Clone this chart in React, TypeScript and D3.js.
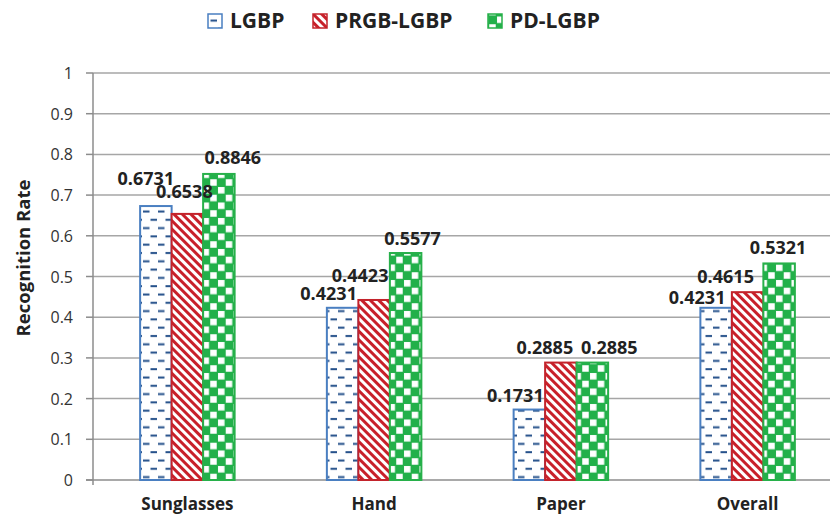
import React from "react";
import * as d3 from "d3";

const categories = ["Sunglasses", "Hand", "Paper", "Overall"];
const seriesNames = ["LGBP", "PRGB-LGBP", "PD-LGBP"];
const lgbpValues = [0.6731, 0.4231, 0.1731, 0.4231];
const prgbValues = [0.6538, 0.4423, 0.2885, 0.4615];
const pdBarValues = [0.752, 0.5577, 0.2885, 0.5321];
const lgbpLabels = ["0.6731", "0.4231", "0.1731", "0.4231"];
const prgbLabels = ["0.6538", "0.4423", "0.2885", "0.4615"];
const pdLabels = ["0.8846", "0.5577", "0.2885", "0.5321"];
const yTicks = [0, 0.1, 0.2, 0.3, 0.4, 0.5, 0.6, 0.7, 0.8, 0.9, 1];
const yTickLabels = ["0", "0.1", "0.2", "0.3", "0.4", "0.5", "0.6", "0.7", "0.8", "0.9", "1"];

// label placement offsets (px) relative to bar centre / bar top
const labelDx = [
  [-10, -14, -14, -19],
  [-3, -14, -16, -22],
  [14, 7, 17, -1],
];
const labelDy = [
  [-21, -8, -7.5, -4],
  [-16, -18, -8.6, -9],
  [-10, -8, -8.6, -9],
];

const W = 830;
const H = 520;
const FONT = "'Open Sans', 'Noto Sans', sans-serif";

const strokeColors = ["#4a7fc1", "#c3232b", "#27b04a"];
const fills = ["url(#patDash)", "url(#patStripe)", "url(#patCheck)"];

export default function App() {
  const values = [lgbpValues, prgbValues, pdBarValues];
  const labels = [lgbpLabels, prgbLabels, pdLabels];

  const y = d3.scaleLinear().domain([0, 1]).range([480, 73]);
  const x0 = d3.scaleBand<string>().domain(categories).range([94, 841]).padding(0);
  const bw = x0.bandwidth();
  const x1 = d3
    .scaleBand<string>()
    .domain(seriesNames)
    .range([bw * 0.247, bw * 0.753])
    .padding(0);

  const legendX = [208, 313, 488];

  return (
    <svg
      width={W}
      height={H}
      style={{ position: "absolute", left: 0, top: 0, background: "#fff" }}
      fontFamily={FONT}
    >
      <defs>
        <pattern id="patDash" patternUnits="userSpaceOnUse" width={15} height={16.6}>
          <rect width={15} height={16.6} fill="#fff" />
          <rect x={0.5} y={3} width={6.5} height={2} fill="#24508a" />
          <rect x={8} y={11.3} width={6.5} height={2} fill="#24508a" />
        </pattern>
        <pattern
          id="patStripe"
          patternUnits="userSpaceOnUse"
          width={6}
          height={6}
          patternTransform="rotate(-45)"
        >
          <rect width={6} height={6} fill="#fff" />
          <rect width={3} height={6} fill="#c8202a" />
        </pattern>
        <pattern id="patCheck" patternUnits="userSpaceOnUse" width={15.5} height={15.5}>
          <rect width={15.5} height={15.5} fill="#22b04a" />
          <rect x={1} y={1} width={6.5} height={6.5} fill="#fff" />
          <rect x={8.75} y={8.75} width={6.5} height={6.5} fill="#fff" />
        </pattern>
      </defs>

      {/* gridlines */}
      {yTicks.slice(1).map((t) => (
        <line key={t} x1={93} x2={W} y1={y(t)} y2={y(t)} stroke="#a6a6a6" strokeWidth={1.5} />
      ))}

      {/* axes */}
      <line x1={93} x2={93} y1={73} y2={485} stroke="#8c8c8c" strokeWidth={1.5} />
      <line x1={86} x2={W} y1={480} y2={480} stroke="#8c8c8c" strokeWidth={1.5} />
      {yTicks.map((t, i) => (
        <g key={t}>
          <line x1={86} x2={93} y1={y(t)} y2={y(t)} stroke="#8c8c8c" strokeWidth={1.5} />
          <text x={73} y={y(t) + 6} textAnchor="end" fontSize={16} fill="#333">
            {yTickLabels[i]}
          </text>
        </g>
      ))}

      {/* bars */}
      {seriesNames.map((s, si) =>
        categories.map((c, ci) => {
          const bx = (x0(c) ?? 0) + (x1(s) ?? 0);
          const v = values[si][ci];
          return (
            <rect
              key={s + c}
              x={bx}
              y={y(v)}
              width={x1.bandwidth()}
              height={y(0) - y(v)}
              fill={fills[si]}
              stroke={strokeColors[si]}
              strokeWidth={2}
            />
          );
        })
      )}

      {/* value labels */}
      {seriesNames.map((s, si) =>
        categories.map((c, ci) => {
          const cx = (x0(c) ?? 0) + (x1(s) ?? 0) + x1.bandwidth() / 2;
          const v = values[si][ci];
          return (
            <text
              key={"l" + s + c}
              x={cx + labelDx[si][ci]}
              y={y(v) + labelDy[si][ci]}
              textAnchor="middle"
              fontSize={18}
              fontWeight="bold"
              fill="#222"
            >
              {labels[si][ci]}
            </text>
          );
        })
      )}

      {/* category labels */}
      {categories.map((c) => (
        <text
          key={c}
          x={(x0(c) ?? 0) + bw / 2}
          y={510}
          textAnchor="middle"
          fontSize={17}
          fontWeight="bold"
          fill="#222"
        >
          {c}
        </text>
      ))}

      {/* y title */}
      <text
        transform="translate(30,258) rotate(-90)"
        textAnchor="middle"
        fontSize={18.5}
        fontWeight="bold"
        fill="#222"
      >
        Recognition Rate
      </text>

      {/* legend */}
      {seriesNames.map((s, si) => (
        <g key={"lg" + s}>
          <rect
            x={legendX[si]}
            y={14}
            width={14}
            height={14}
            fill={fills[si]}
            stroke={strokeColors[si]}
            strokeWidth={1.5}
          />
          <text x={legendX[si] + 22} y={28} fontSize={21} fontWeight="bold" fill="#222">
            {s}
          </text>
        </g>
      ))}
    </svg>
  );
}
